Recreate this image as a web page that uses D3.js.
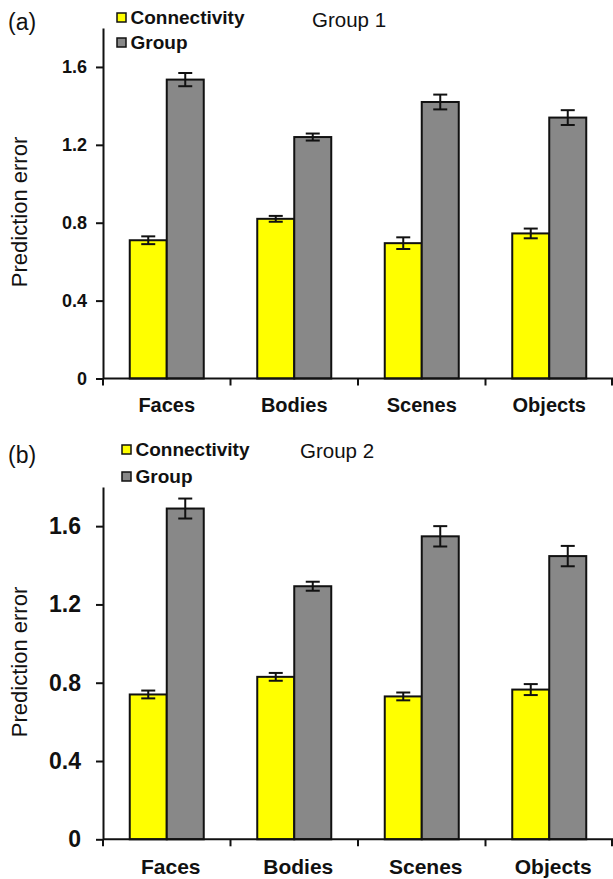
<!DOCTYPE html>
<html lang="en">
<meta charset="utf-8">
<head>
    <style>
        body { margin: 0; background: #fff; }
        svg text { font-family: "Liberation Sans", Arial, sans-serif; fill: #111; }
    </style>
    <script src="https://d3js.org/d3.v7.min.js"></script>
</head>
<body>
</body>
<script>
    // data
    var categories = ["Faces", "Bodies", "Scenes", "Objects"];
    var seriesNames = ["Connectivity", "Group"];
    var yTicks = [0, 0.4, 0.8, 1.2, 1.6];

    var g1Connectivity = [0.71, 0.82, 0.695, 0.745];
    var g1ConnectivityErr = [0.02, 0.015, 0.03, 0.025];
    var g1Group = [1.535, 1.24, 1.42, 1.34];
    var g1GroupErr = [0.034, 0.018, 0.038, 0.038];

    var g2Connectivity = [0.74, 0.83, 0.73, 0.765];
    var g2ConnectivityErr = [0.02, 0.02, 0.02, 0.028];
    var g2Group = [1.69, 1.293, 1.548, 1.447];
    var g2GroupErr = [0.051, 0.023, 0.052, 0.052];

    var colors = { Connectivity: "#ffff00", Group: "#888888" };

    var svg = d3.select("body").append("svg")
        .attr("width", 613)
        .attr("height", 879);

    function drawPanel(p) {
        var g = svg.append("g");

        var x = d3.scaleBand().domain(categories).range([103, 613]).padding(0);
        var groupW = 74;
        var xs = d3.scaleBand().domain(seriesNames).range([0, groupW]);
        var y = d3.scaleLinear().domain([0, 1.8]).range([p.bottom, p.top]);

        // rows: one per bar
        var rows = [];
        categories.forEach(function (c, i) {
            rows.push({ cat: c, s: "Connectivity", v: p.conn[i], e: p.connErr[i] });
            rows.push({ cat: c, s: "Group", v: p.group[i], e: p.groupErr[i] });
        });
        var left = function (d) {
            return x(d.cat) + (x.bandwidth() - groupW) / 2 + xs(d.s);
        };

        // y axis
        var yAxis = g.append("g")
            .attr("transform", "translate(103,0)")
            .call(d3.axisLeft(y).tickValues(yTicks).tickSize(7).tickSizeOuter(0)
                .tickPadding(p.tickPad)
                .tickFormat(function (d) { return d === 0 ? "0" : d3.format(".1f")(d); }));
        yAxis.selectAll("path, line").attr("stroke", "#111").attr("stroke-width", 2);
        yAxis.selectAll("text").attr("font-size", p.tickFont).attr("font-weight", "bold")
            .attr("font-family", "Liberation Sans, Arial, sans-serif").attr("fill", "#111");

        // bars
        g.selectAll("rect.bar").data(rows).enter().append("rect")
            .attr("class", "bar")
            .attr("x", left)
            .attr("y", function (d) { return y(d.v); })
            .attr("width", xs.bandwidth())
            .attr("height", function (d) { return y(0) - y(d.v); })
            .attr("fill", function (d) { return colors[d.s]; })
            .attr("stroke", "#111")
            .attr("stroke-width", 2);

        // error bars
        var eb = g.selectAll("g.err").data(rows).enter().append("g").attr("class", "err")
            .attr("stroke", "#111").attr("stroke-width", 2);
        eb.append("line")
            .attr("x1", function (d) { return left(d) + xs.bandwidth() / 2; })
            .attr("x2", function (d) { return left(d) + xs.bandwidth() / 2; })
            .attr("y1", function (d) { return y(d.v + d.e); })
            .attr("y2", function (d) { return y(d.v - d.e); });
        [1, -1].forEach(function (sgn) {
            eb.append("line")
                .attr("x1", function (d) { return left(d) + xs.bandwidth() / 2 - 7; })
                .attr("x2", function (d) { return left(d) + xs.bandwidth() / 2 + 7; })
                .attr("y1", function (d) { return y(d.v + sgn * d.e); })
                .attr("y2", function (d) { return y(d.v + sgn * d.e); });
        });

        // x axis: baseline, ticks at category boundaries
        g.append("line")
            .attr("x1", 103).attr("x2", 613)
            .attr("y1", y(0)).attr("y2", y(0))
            .attr("stroke", "#111").attr("stroke-width", 2);
        var edges = categories.map(function (c) { return x(c); }).concat([x.range()[1] - 1]);
        g.selectAll("line.xtick").data(edges).enter().append("line")
            .attr("class", "xtick")
            .attr("x1", function (d) { return d; }).attr("x2", function (d) { return d; })
            .attr("y1", y(0)).attr("y2", y(0) + 7)
            .attr("stroke", "#111").attr("stroke-width", 2);
        g.selectAll("text.cat").data(categories).enter().append("text")
            .attr("class", "cat")
            .attr("x", function (d) { return x(d) + x.bandwidth() / 2 + p.catShift; })
            .attr("y", p.catY)
            .attr("text-anchor", "middle")
            .attr("font-size", p.catFont)
            .attr("font-weight", "bold")
            .text(function (d) { return d; });

        // axis title
        g.append("text")
            .attr("transform", "translate(27," + p.ylabY + ") rotate(-90)")
            .attr("text-anchor", "middle")
            .attr("font-size", 22)
            .text("Prediction error");

        // panel letter and title
        g.append("text").attr("x", 8).attr("y", p.letterY)
            .attr("font-size", 23).text(p.letter);
        g.append("text").attr("x", p.titleX).attr("y", p.titleY)
            .attr("font-size", 20.5).text(p.title);

        // legend
        var leg = g.selectAll("g.leg").data(seriesNames).enter().append("g").attr("class", "leg")
            .attr("transform", function (d, i) {
                return "translate(" + p.legX + "," + (p.legY + i * p.legGap) + ")";
            });
        leg.append("rect")
            .attr("x", 0).attr("y", 0).attr("width", 9).attr("height", 9)
            .attr("fill", function (d) { return colors[d]; })
            .attr("stroke", "#111").attr("stroke-width", 1.5);
        leg.append("text")
            .attr("x", 13.5).attr("y", 11)
            .attr("font-size", 19).attr("font-weight", "bold")
            .text(function (d) { return d; });
    }

    drawPanel({
        conn: g1Connectivity, connErr: g1ConnectivityErr,
        group: g1Group, groupErr: g1GroupErr,
        top: 28, bottom: 378.5,
        tickFont: 18, tickPad: 9,
        catY: 411.5, catFont: 20, catShift: 0,
        ylabY: 212,
        letter: "(a)", letterY: 30,
        title: "Group 1", titleX: 312, titleY: 27,
        legX: 117, legY: 13, legGap: 25
    });

    drawPanel({
        conn: g2Connectivity, connErr: g2ConnectivityErr,
        group: g2Group, groupErr: g2GroupErr,
        top: 487, bottom: 839.3,
        tickFont: 23, tickPad: 15,
        catY: 874, catFont: 21, catShift: 4,
        ylabY: 662,
        letter: "(b)", letterY: 463,
        title: "Group 2", titleX: 300, titleY: 458,
        legX: 122, legY: 445, legGap: 27
    });
</script>
</html>
